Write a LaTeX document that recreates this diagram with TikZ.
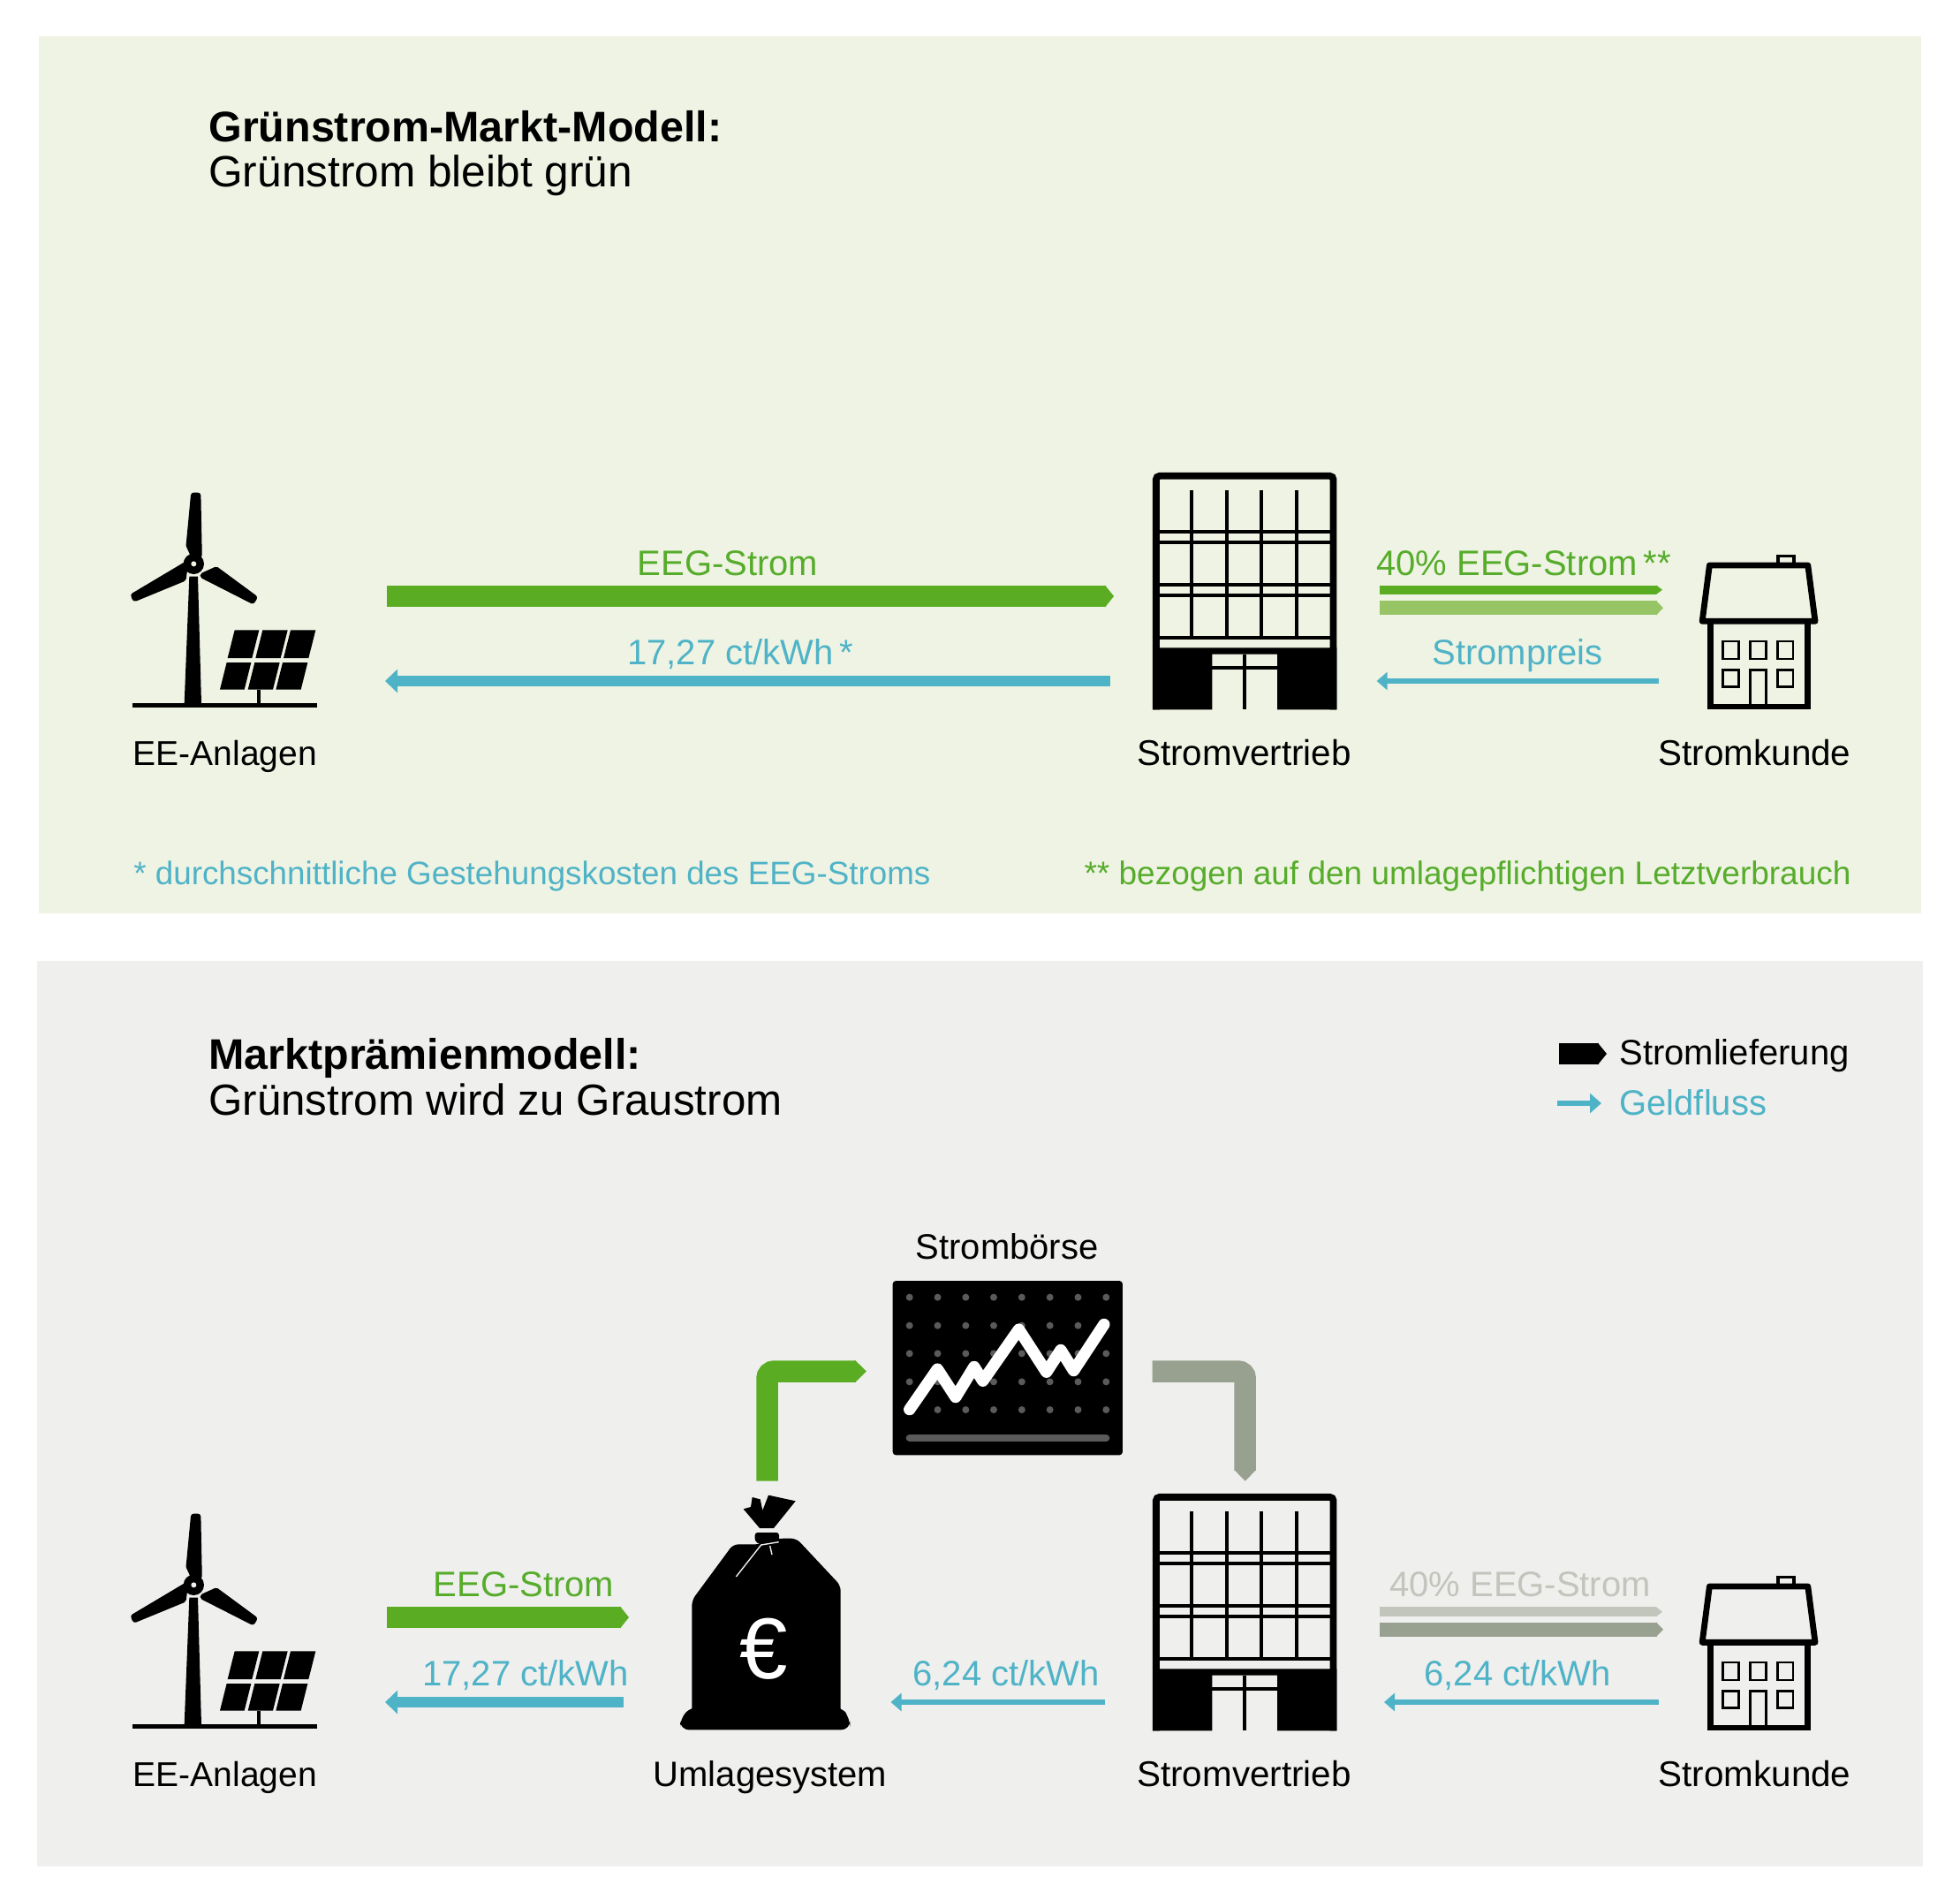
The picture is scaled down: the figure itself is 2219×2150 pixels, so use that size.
\documentclass[tikz,border=0pt]{standalone}
\usepackage{fontspec}
\setmainfont{Liberation Sans}
\usetikzlibrary{arrows.meta}
\definecolor{cgreen}{HTML}{5AAD22}
\definecolor{clight}{HTML}{97C566}
\definecolor{cblue}{HTML}{4FB3C7}
\definecolor{cpanelA}{HTML}{EFF3E3}
\definecolor{cpanelB}{HTML}{EFEFED}
\definecolor{cgreyL}{HTML}{C2C5BC}
\definecolor{cgreyD}{HTML}{98A08F}
\definecolor{cdot}{HTML}{5A5A5A}
\definecolor{ctxtgreen}{HTML}{56AC2B}
\tikzset{
  iconscale/.style={x=0.16667pt,y=-0.16667pt},
  lbl/.style={anchor=base,font=\fontsize{20pt}{22pt}\selectfont,inner sep=0pt},
  blk/.style={anchor=base,font=\fontsize{20.2pt}{22pt}\selectfont,inner sep=0pt},
  notel/.style={anchor=base west,font=\fontsize{18.4pt}{22pt}\selectfont,inner sep=0pt},
  noter/.style={anchor=base east,font=\fontsize{18.5pt}{22pt}\selectfont,inner sep=0pt},
  legendtxt/.style={anchor=base west,font=\fontsize{20pt}{22pt}\selectfont,inner sep=0pt},
  titlel/.style={anchor=base west,font=\fontsize{24.8pt}{28pt}\selectfont,inner sep=0pt},
  titleb/.style={anchor=base west,font=\fontsize{24.2pt}{28pt}\selectfont\bfseries,inner sep=0pt},
  powerbar/.style n args={3}{draw=#1,line width=#2,-{Triangle[length=#3,width=#2]}},
  moneybar/.style n args={3}{draw=cblue,line width=#1,-{Triangle[length=#3,width=#2]}},
}
\newcommand{\turbineicon}[2]{%
  \begin{scope}[shift={(120,530+#1)},iconscale]
    \fill (283,368) -- (312,368) -- (324,800) -- (266,800) -- cycle;
    \draw[line width=2.6pt] (90,806) -- (717,806);
    \draw[line width=2pt] (519,752) -- (519,806);
    \begin{scope}[fill=black,draw=black,line width=3.4pt,line join=round]
      \filldraw (298,93) -- (312,93) -- (316,295) -- (297,295) -- (282,262) -- cycle;
      \filldraw (95,433) -- (99,442) -- (262,375) -- (268,330) -- cycle;
      \filldraw (374,345) -- (503,440) -- (497,450) -- (330,365) -- cycle;
    \end{scope}
    \fill (298,325) circle[radius=35];
    \fill[#2] (298,325) circle[radius=9];
    \fill (437,550) -- (520,550) -- (496,645) -- (413,645) -- cycle;
    \fill (532,550) -- (617,550) -- (593,645) -- (508,645) -- cycle;
    \fill (627,550) -- (712,550) -- (688,645) -- (603,645) -- cycle;
    \fill (410,660) -- (493,660) -- (470,752) -- (387,752) -- cycle;
    \fill (505,660) -- (590,660) -- (567,752) -- (482,752) -- cycle;
    \fill (600,660) -- (685,660) -- (662,752) -- (577,752) -- cycle;
  \end{scope}}
\newcommand{\buildingicon}[1]{%
  \begin{scope}[shift={(1280,520+#1)},iconscale]
    \draw[line width=3.9pt,rounded corners=2pt] (86.5,850) -- (86.5,56.5) -- (688.5,56.5) -- (688.5,850);
    \fill (75,640) -- (700,640) -- (700,850) -- (498,850) -- (498,662) -- (277,662) -- (277,850) -- (75,850) -- cycle;
    \foreach \yy in {245,282,425,462,605} \draw[line width=1.9pt] (90,\yy) -- (685,\yy);
    \foreach \xx in {206,326,445,565} \draw[line width=2pt] (\xx,105) -- (\xx,600);
    \draw[line width=1.9pt] (277,708) -- (498,708);
    \draw[line width=2pt] (388,662) -- (388,850);
  \end{scope}}
\newcommand{\houseicon}[1]{%
  \begin{scope}[shift={(1530,590+#1)},x=0.17857pt,y=-0.16667pt]
    \draw[line width=1.8pt] (1352,150) rectangle (1402,118);
    \draw[line width=3.4pt,line join=round] (1112,340) -- (1135,150) -- (1447,150) -- (1470,340) -- cycle;
    \draw[line width=3.4pt] (1137,340) -- (1137,630) -- (1445,630) -- (1445,340);
    \begin{scope}[line width=1.4pt]
      \draw (1178,408) rectangle (1228,468);
      \draw (1264,408) rectangle (1314,468);
      \draw (1350,408) rectangle (1400,468);
      \draw (1178,505) rectangle (1228,563);
      \draw (1350,505) rectangle (1400,563);
      \draw (1264,625) -- (1264,505) -- (1314,505) -- (1314,625);
    \end{scope}
  \end{scope}}
\begin{document}
\begin{tikzpicture}[x=0.5pt,y=-0.5pt]
\useasboundingbox (0,0) rectangle (2219,2150);
\fill[white] (0,0) rectangle (2219,2150);
\fill[cpanelA] (44,41) rectangle (2175,1034);
\fill[cpanelB] (42,1088) rectangle (2177,2113);

% ---------- panel 1 ----------
\node[titleb] (t1a) at (236,160.5) {Grünstrom-Markt-Modell:};
\node[titlel] (t1b) at (236,212) {Grünstrom bleibt grün};

\turbineicon{0}{cpanelA}
\buildingicon{0}
\houseicon{0}

\node[lbl,font=\fontsize{19.5pt}{22pt}\selectfont] (ee1) at (254.7,866.5) {EE-Anlagen};
\node[blk] (sv1) at (1408.5,866.5) {Stromvertrieb};
\node[blk] (sk1) at (1986.5,866.5) {Stromkunde};

\coordinate (a1s) at (438,675);   \coordinate (a1e) at (1261,675);
\draw[powerbar={cgreen}{12.25pt}{5pt}] (a1s) -- (a1e);
\node[lbl,text=ctxtgreen] (l1) at (824,651) {EEG-Strom};

\coordinate (b1s) at (1257,771);  \coordinate (b1e) at (436,771);
\draw[moneybar={6pt}{13pt}{7pt}] (b1s) -- (b1e);
\node[lbl,text=cblue] (l2) at (838,752.5) {17,27 ct/kWh\,*};

\coordinate (c1s) at (1561.5,667.7); \coordinate (c1e) at (1882,667.7);
\draw[powerbar={cgreen}{5pt}{3.5pt}] (c1s) -- (c1e);
\coordinate (d1s) at (1561.5,688.3);  \coordinate (d1e) at (1883,688.3);
\draw[powerbar={clight}{8pt}{4pt}] (d1s) -- (d1e);
\node[lbl,text=ctxtgreen] (l3) at (1725,651) {40\% EEG-Strom\,**};

\coordinate (e1s) at (1878,771);  \coordinate (e1e) at (1558.6,771);
\draw[moneybar={3pt}{10pt}{6pt}] (e1s) -- (e1e);
\node[lbl,text=cblue] (l4) at (1718,752.5) {Strompreis};

\node[notel,text=cblue] (n1) at (151,1001) {* durchschnittliche Gestehungskosten des EEG-Stroms};
\node[noter,text=ctxtgreen] (n2) at (2096,1001) {** bezogen auf den umlagepflichtigen Letztverbrauch};

% ---------- panel 2 ----------
\node[titleb] (t2a) at (236,1210.5) {Marktprämienmodell:};
\node[titlel,font=\fontsize{24.65pt}{28pt}\selectfont] (t2b) at (236,1262.5) {Grünstrom wird zu Graustrom};

\coordinate (lg1s) at (1765,1193); \coordinate (lg1e) at (1819,1193);
\draw[powerbar={black}{12pt}{5pt}] (lg1s) -- (lg1e);
\node[legendtxt] (lg1) at (1833,1205) {Stromlieferung};
\coordinate (lg2s) at (1763,1249); \coordinate (lg2e) at (1813,1249);
\draw[moneybar={3pt}{11pt}{6.5pt}] (lg2s) -- (lg2e);
\node[legendtxt,text=cblue] (lg2) at (1833,1262) {Geldfluss};

\turbineicon{1156}{cpanelB}
\buildingicon{1156}
\houseicon{1156}

\node[lbl,font=\fontsize{19.5pt}{22pt}\selectfont] (ee2) at (254.7,2022.5) {EE-Anlagen};
\node[lbl] (us2) at (872,2022.5) {Umlagesystem};
\node[blk] (sv2) at (1408.5,2022.5) {Stromvertrieb};
\node[blk] (sk2) at (1986.5,2022.5) {Stromkunde};
\node[lbl] (sb2) at (1140,1425) {Strombörse};

% money bag
\begin{scope}[shift={(750,1680)},iconscale]
  \fill[rounded corners=3pt] (100,395) -- (240,205) -- (330,205) -- (395,185) -- (455,185) -- (605,345) -- (605,800) -- (100,800) -- cycle;
  \fill[rounded corners=5pt] (60,835) -- (60,795) -- (100,755) -- (605,755) -- (637,795) -- (637,835) -- cycle;
  \fill[rounded corners=1.5pt] (314,165) -- (396,165) -- (396,200) -- (375,207) -- (335,207) -- (314,195) -- cycle;
  \fill (360,38) -- (452,58) -- (378,150) -- (330,150) -- (275,85) -- (300,78) -- (305,45) -- (332,52) -- (340,90) -- cycle;
  \draw[cpanelB,line width=0.7pt] (250,315) -- (335,207) -- (395,197);
  \draw[cpanelB,line width=0.7pt] (372,240) -- (365,210);
  \draw[cpanelB,line width=0.7pt] (318,158) -- (392,158);
\end{scope}
\node[anchor=center,text=white,draw=white,line width=0.4pt,inner sep=0pt,draw opacity=0,font=\fontsize{49pt}{50pt}\selectfont] (euro) at (865,1866.5) {€};

% exchange display
\begin{scope}[shift={(830,1430)},x=0.19771pt,y=-0.16667pt]
  \fill[rounded corners=1.8pt] (457,60) rectangle (1115,652);
  \foreach \yy in {116,212,307,403,498}
    \foreach \xx in {505,585.5,666,746,826.5,907,987.5,1068}
      \fill[cdot] (\xx,\yy) circle[radius=2pt];
  \draw[cdot,line width=4pt,line cap=round] (505,594) -- (1068,594);
  \draw[white,line width=6.6pt,line cap=round,line join=round] (505,497) -- (585,360) -- (637,455) -- (690,352) -- (715,400) -- (818,225) -- (897,370) -- (938,295) -- (975,365) -- (1062,208);
\end{scope}

% elbows
\coordinate (gb) at (868.5,1676.7);
\coordinate (ge) at (981,1552.5);
\draw[powerbar={cgreen}{12.25pt}{6.5pt},rounded corners=4pt] (gb) |- (ge);

\coordinate (hs) at (1304.5,1552.5);
\coordinate (hb) at (1409.7,1676.7);
\draw[powerbar={cgreyD}{12.25pt}{6.5pt},rounded corners=4pt] (hs) -| (hb);

% flows
\coordinate (a2s) at (438,1831);  \coordinate (a2e) at (712,1831);
\draw[powerbar={cgreen}{12.25pt}{5pt}] (a2s) -- (a2e);
\node[lbl,text=ctxtgreen] (m1) at (593,1807) {EEG-Strom};
\coordinate (b2s) at (706,1927);  \coordinate (b2e) at (436,1927);
\draw[moneybar={6pt}{13pt}{7pt}] (b2s) -- (b2e);
\node[lbl,text=cblue] (m2) at (595,1908.5) {17,27 ct/kWh};
\coordinate (f2s) at (1251,1927); \coordinate (f2e) at (1008.5,1927);
\draw[moneybar={3pt}{10pt}{6pt}] (f2s) -- (f2e);
\node[lbl,text=cblue] (m3) at (1139,1908.5) {6,24 ct/kWh};
\coordinate (c2s) at (1561.5,1824.7); \coordinate (c2e) at (1882,1824.7);
\draw[powerbar={cgreyL}{5.3pt}{3.5pt}] (c2s) -- (c2e);
\coordinate (d2s) at (1561.5,1844.7);  \coordinate (d2e) at (1883,1844.7);
\draw[powerbar={cgreyD}{8pt}{4pt}] (d2s) -- (d2e);
\node[lbl,text=cgreyL] (m4) at (1721,1807) {40\% EEG-Strom};
\coordinate (e2s) at (1878,1927);  \coordinate (e2e) at (1567,1927);
\draw[moneybar={3pt}{10pt}{6pt}] (e2s) -- (e2e);
\node[lbl,text=cblue] (m5) at (1718,1908.5) {6,24 ct/kWh};
\end{tikzpicture}
\end{document}
